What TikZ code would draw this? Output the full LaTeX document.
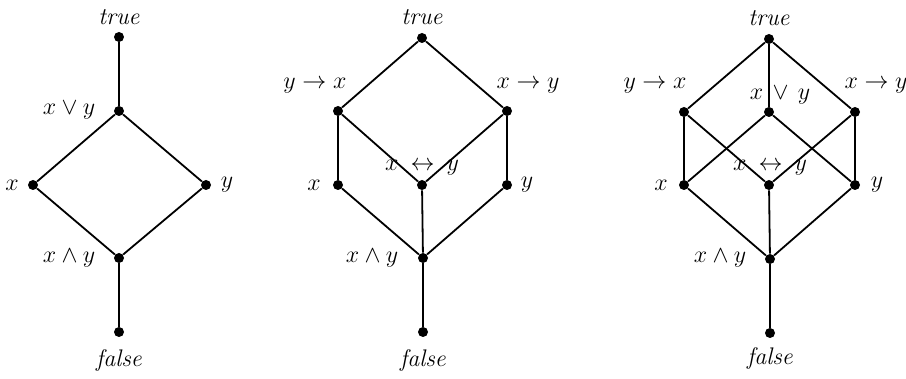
\documentclass[tikz,border=0pt]{standalone}
\begin{document}
\begin{tikzpicture}[x=0.5pt,y=-0.5pt,
  dot/.style={circle,fill=black,inner sep=0pt,minimum size=5pt},
  lbl/.style={font=\fontsize{12}{14}\selectfont,inner sep=0pt},
  edge/.style={line width=0.9pt}]
\useasboundingbox (0,0) rectangle (906,379);
\newcommand{\iffsym}{$x\hspace{6pt}{\leftrightarrow}\hspace{6pt}y$}
% ---------- diagram 1 ----------
\node[dot] (a1t) at (119,37) {};
\node[dot] (a1o) at (119,111) {};
\node[dot] (a1x) at (33,185) {};
\node[dot] (a1y) at (206,185) {};
\node[dot] (a1a) at (119,258) {};
\node[dot] (a1f) at (119,332) {};
\draw[edge] (a1t) -- (a1o);
\draw[edge] (a1o) -- (a1x);
\draw[edge] (a1o) -- (a1y);
\draw[edge] (a1x) -- (a1a);
\draw[edge] (a1y) -- (a1a);
\draw[edge] (a1a) -- (a1f);
\node[lbl] (l1t) at (119,17) {\textit{true}};
\node[lbl] (l1o) at (69,110) {$x \vee y$};
\node[lbl] (l1x) at (12,185) {$x$};
\node[lbl] (l1y) at (227,185) {$y$};
\node[lbl] (l1a) at (69,258) {$x \wedge y$};
\node[lbl] (l1f) at (119,361) {\textit{false}};
% ---------- diagram 2 ----------
\node[dot] (b2t) at (422,38) {};
\node[dot] (b2l) at (338,111) {};
\node[dot] (b2r) at (507,111) {};
\node[dot] (b2x) at (338,185) {};
\node[dot] (b2e) at (422,185) {};
\node[dot] (b2y) at (507,185) {};
\node[dot] (b2a) at (423,258) {};
\node[dot] (b2f) at (423,332) {};
\draw[edge] (b2t) -- (b2l);
\draw[edge] (b2t) -- (b2r);
\draw[edge] (b2l) -- (b2x);
\draw[edge] (b2l) -- (b2e);
\draw[edge] (b2r) -- (b2e);
\draw[edge] (b2r) -- (b2y);
\draw[edge] (b2x) -- (b2a);
\draw[edge] (b2e) -- (b2a);
\draw[edge] (b2y) -- (b2a);
\draw[edge] (b2a) -- (b2f);
\node[lbl] (l2t) at (422,17) {\textit{true}};
\node[lbl] (l2l) at (315,86) {$y \rightarrow x$};
\node[lbl] (l2r) at (528,86) {$x \rightarrow y$};
\node[lbl] (l2e) at (422,168) {\iffsym};
\node[lbl] (l2x) at (314,185) {$x$};
\node[lbl] (l2y) at (527,185) {$y$};
\node[lbl] (l2a) at (372,258) {$x \wedge y$};
\node[lbl] (l2f) at (423,361) {\textit{false}};
% ---------- diagram 3 ----------
\node[dot] (c3t) at (769,39) {};
\node[dot] (c3l) at (684,112) {};
\node[dot] (c3o) at (769,112) {};
\node[dot] (c3r) at (855,112) {};
\node[dot] (c3x) at (684,185) {};
\node[dot] (c3e) at (769,185) {};
\node[dot] (c3y) at (855,185) {};
\node[dot] (c3a) at (770,259) {};
\node[dot] (c3f) at (770,333) {};
\draw[edge] (c3t) -- (c3l);
\draw[edge] (c3t) -- (c3o);
\draw[edge] (c3t) -- (c3r);
\draw[edge] (c3l) -- (c3x);
\draw[edge] (c3l) -- (c3e);
\draw[edge] (c3o) -- (c3x);
\draw[edge] (c3o) -- (c3y);
\draw[edge] (c3r) -- (c3e);
\draw[edge] (c3r) -- (c3y);
\draw[edge] (c3x) -- (c3a);
\draw[edge] (c3e) -- (c3a);
\draw[edge] (c3y) -- (c3a);
\draw[edge] (c3a) -- (c3f);
\node[lbl] (l3t) at (769,18) {\textit{true}};
\node[lbl] (l3l) at (655,86) {$y \rightarrow x$};
\node[lbl] (l3r) at (876,86) {$x \rightarrow y$};
\node[lbl] (l3o) at (780,95) {$x \hspace{2pt}\vee\hspace{2pt} y$};
\node[lbl] (l3e) at (770,168) {\iffsym};
\node[lbl] (l3x) at (661,185) {$x$};
\node[lbl] (l3y) at (877,185) {$y$};
\node[lbl] (l3a) at (720,258) {$x \wedge y$};
\node[lbl] (l3f) at (770,359) {\textit{false}};
\end{tikzpicture}
\end{document}
